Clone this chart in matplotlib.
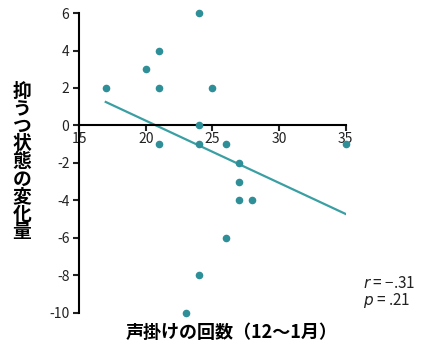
import numpy as np
import matplotlib
matplotlib.use("Agg")
import matplotlib.pyplot as plt

plt.rcParams['font.family'] = ['Noto Sans CJK JP', 'DejaVu Sans']
plt.rcParams['axes.unicode_minus'] = False

# data
calls = [17, 20, 21, 21, 21, 24, 24, 24, 25, 26, 27, 27, 27, 28, 26, 24, 23, 35]
change = [2, 3, 4, 2, -1, 6, 0, -1, 2, -1, -2, -3, -4, -4, -6, -8, -10, -1]
xticks = [15, 20, 25, 30, 35]
yticks = [6, 4, 2, 0, -2, -4, -6, -8, -10]

dot_color = "#2e8f99"
line_color = "#3a9fa2"

fig = plt.figure(figsize=(4.23, 3.45), dpi=100)
ax = fig.add_axes([0.187, 0.094, 0.630, 0.868])

ax.scatter(calls, change, s=20, color=dot_color, zorder=3, clip_on=False)

# least-squares fit drawn over the data range
slope, intercept = np.polyfit(calls, change, 1)
xs = np.array([min(calls), max(calls)])
ax.plot(xs, slope * xs + intercept, color=line_color, linewidth=1.6, zorder=2)

ax.set_xlim(15, 35)
ax.set_ylim(-10, 6)
ax.set_xticks(xticks)
ax.set_yticks(yticks)

ax.spines['top'].set_visible(False)
ax.spines['right'].set_visible(False)
ax.spines['bottom'].set_position(('data', 0))
ax.spines['left'].set_linewidth(1.5)
ax.spines['bottom'].set_linewidth(1.5)
ax.tick_params(axis='both', direction='out', width=1.5, length=4,
               labelsize=10, colors='#222222', pad=3)
ax.tick_params(axis='x', pad=1)

# stacked vertical y label
fig.text(0.052, 0.532, "\n".join("抑うつ状態の変化量"), fontsize=13.5,
         fontweight='bold', ha='center', va='center', linespacing=0.9)
fig.text(0.547, 0.036, "声掛けの回数（12〜1月）", fontsize=13,
         fontweight='bold', ha='center', va='center')

fig.text(0.858, 0.153, "$r$ = −.31\n$p$ = .21", fontsize=11,
         ha='left', va='center', color='#222222', linespacing=0.95)

fig.savefig("out.png", dpi=100)
